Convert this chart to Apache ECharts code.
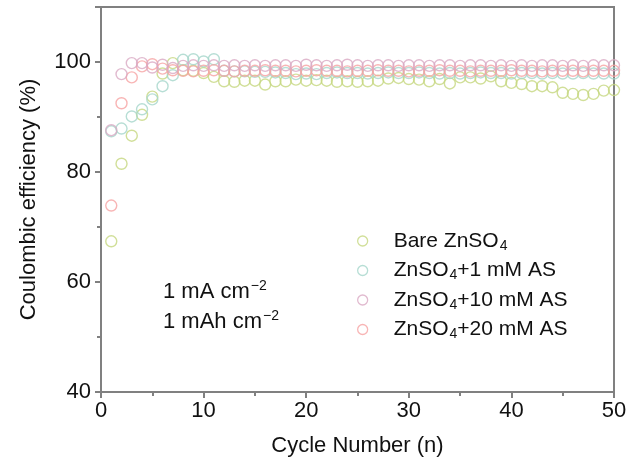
<!DOCTYPE html>
<html>
<head>
<meta charset="utf-8">
<script src="https://cdn.jsdelivr.net/npm/echarts@6/dist/echarts.min.js"></script>
<style>
  html, body { margin: 0; padding: 0; background: #fff; }
  #main { width: 631px; height: 466px; }
</style>
</head>
<body>
<div id="main"></div>
<script>
// cycle numbers 1..50
var cycles = [1, 2, 3, 4, 5, 6, 7, 8, 9, 10,
  11, 12, 13, 14, 15, 16, 17, 18, 19, 20,
  21, 22, 23, 24, 25, 26, 27, 28, 29, 30,
  31, 32, 33, 34, 35, 36, 37, 38, 39, 40,
  41, 42, 43, 44, 45, 46, 47, 48, 49, 50];

// Coulombic efficiency (%)
var bareZnSO4 = [67.4, 81.5, 86.6, 90.4, 93.7, 97.9, 99.8, 98.5, 98.4, 98.0,
  97.3, 96.5, 96.4, 96.6, 96.6, 95.9, 96.5, 96.5, 96.8, 96.6,
  96.7, 96.6, 96.4, 96.5, 96.4, 96.5, 96.6, 97.0, 97.1, 96.9,
  96.8, 96.5, 96.9, 96.1, 97.2, 97.2, 97.0, 97.4, 96.5, 96.2,
  96.0, 95.6, 95.6, 95.4, 94.4, 94.2, 94.0, 94.2, 94.8, 94.9];

var as1mM = [87.4, 87.9, 90.1, 91.4, 93.2, 95.6, 97.6, 100.4, 100.5, 100.1,
  100.5, 98.4, 98.3, 98.3, 98.2, 98.2, 98.1, 98.0, 97.8, 97.9,
  97.8, 98.0, 98.1, 98.0, 98.0, 97.9, 98.0, 98.1, 98.0, 98.0,
  98.1, 98.0, 97.9, 98.0, 97.9, 98.0, 98.1, 98.0, 98.0, 97.9,
  98.0, 98.0, 97.9, 98.0, 97.9, 97.9, 98.0, 97.9, 97.9, 97.9];

var as10mM = [87.6, 97.8, 99.8, 99.8, 99.0, 99.5, 98.9, 99.3, 99.4, 99.3,
  99.4, 99.3, 99.4, 99.3, 99.4, 99.3, 99.4, 99.4, 99.3, 99.5,
  99.4, 99.3, 99.4, 99.5, 99.4, 99.3, 99.4, 99.4, 99.3, 99.4,
  99.4, 99.3, 99.4, 99.4, 99.3, 99.4, 99.4, 99.3, 99.4, 99.3,
  99.4, 99.3, 99.4, 99.4, 99.3, 99.4, 99.3, 99.4, 99.4, 99.4];

var as20mM = [73.9, 92.5, 97.2, 99.2, 99.6, 98.8, 98.5, 98.4, 98.3, 98.4,
  98.5, 98.4, 98.3, 98.4, 98.4, 98.5, 98.4, 98.4, 98.3, 98.4,
  98.5, 98.4, 98.4, 98.3, 98.4, 98.4, 98.5, 98.4, 98.4, 98.3,
  98.4, 98.4, 98.5, 98.4, 98.4, 98.3, 98.4, 98.4, 98.4, 98.5,
  98.4, 98.4, 98.3, 98.4, 98.4, 98.4, 98.3, 98.4, 98.4, 98.4];

var seriesNames = ['Bare ZnSO4', 'ZnSO4+1 mM AS', 'ZnSO4+10 mM AS', 'ZnSO4+20 mM AS'];
var seriesColors = ['#c6d77f', '#a5d6cb', '#d9a9c3', '#f6a3a3'];
var seriesValues = [bareZnSO4, as1mM, as10mM, as20mM];
var seriesZ = [2, 3, 5, 4];

var myChart = echarts.init(document.getElementById('main'));

function pairs(vals) {
  return cycles.map(function(c, i) { return [c, vals[i]]; });
}

// legend label with subscript 4
function legendLabel(name) {
  if (name.indexOf('Bare') === 0) {
    return '{sp|}{a|Bare ZnSO}{sub|4}';
  }
  return '{sp|}{a|ZnSO}{sub|4}{a|' + name.replace('ZnSO4', '') + '}';
}

var axisLineStyle = { color: '#808080', width: 2 };

var series = seriesNames.map(function(name, i) {
  return {
    name: name,
    type: 'scatter',
    symbol: 'circle',
    symbolSize: 11,
    z: seriesZ[i],
    itemStyle: {
      color: 'rgba(255,255,255,0)',
      borderColor: seriesColors[i],
      borderWidth: 1.4
    },
    emphasis: { disabled: true },
    data: pairs(seriesValues[i])
  };
});

var textRich = {
  a: { fontFamily: 'Liberation Sans', fontSize: 22, fill: '#111', lineHeight: 26 },
  sup: { fontFamily: 'Liberation Sans', fontSize: 14, fill: '#111', lineHeight: 26, padding: [0, 0, 11, 1] }
};

myChart.setOption({
  animation: false,
  backgroundColor: '#fff',
  grid: {
    left: 101, right: 17, top: 7, bottom: 74,
    show: true,
    borderColor: '#808080',
    borderWidth: 2
  },
  legend: {
    orient: 'vertical',
    left: 352,
    top: 224,
    itemWidth: 10,
    itemHeight: 10,
    itemGap: 5.5,
    icon: 'circle',
    data: seriesNames.map(function(name, i) {
      return {
        name: name,
        itemStyle: { color: 'rgba(255,255,255,0)', borderColor: seriesColors[i], borderWidth: 1.3 }
      };
    }),
    formatter: legendLabel,
    textStyle: {
      rich: {
        sp: { width: 21 },
        a: { fontFamily: 'Liberation Sans', fontSize: 21, color: '#111', lineHeight: 24 },
        sub: { fontFamily: 'Liberation Sans', fontSize: 14, color: '#111', lineHeight: 24, padding: [10, 0, 0, 1] }
      }
    }
  },
  xAxis: {
    type: 'value',
    min: 0, max: 50, interval: 10,
    name: 'Cycle Number (n)',
    nameLocation: 'middle',
    nameGap: 43,
    nameTextStyle: { fontFamily: 'Liberation Sans', fontSize: 22, color: '#111' },
    axisLine: { onZero: false, lineStyle: axisLineStyle },
    axisTick: { inside: false, length: 6, lineStyle: axisLineStyle },
    minorTick: { show: true, splitNumber: 2, length: 4, lineStyle: axisLineStyle },
    axisLabel: { fontFamily: 'Liberation Sans', fontSize: 22, color: '#111', margin: 8 },
    splitLine: { show: false }
  },
  yAxis: {
    type: 'value',
    min: 40, max: 110, interval: 20,
    name: 'Coulombic efficiency (%)',
    nameLocation: 'middle',
    nameGap: 61,
    nameTextStyle: { fontFamily: 'Liberation Sans', fontSize: 22, color: '#111' },
    axisLine: { onZero: false, lineStyle: axisLineStyle },
    axisTick: { inside: false, length: 6, lineStyle: axisLineStyle },
    minorTick: { show: true, splitNumber: 2, length: 4, lineStyle: axisLineStyle },
    axisLabel: {
      fontFamily: 'Liberation Sans', fontSize: 22, color: '#111', margin: 10,
      formatter: function(v) { return v > 100 ? '' : v; }
    },
    splitLine: { show: false }
  },
  graphic: [
    {
      type: 'text', left: 163, top: 279,
      style: { text: '{a|1 mA cm}{sup|−2}', rich: textRich }
    },
    {
      type: 'text', left: 163, top: 309,
      style: { text: '{a|1 mAh cm}{sup|−2}', rich: textRich }
    }
  ],
  series: series
});
</script>
</body>
</html>
